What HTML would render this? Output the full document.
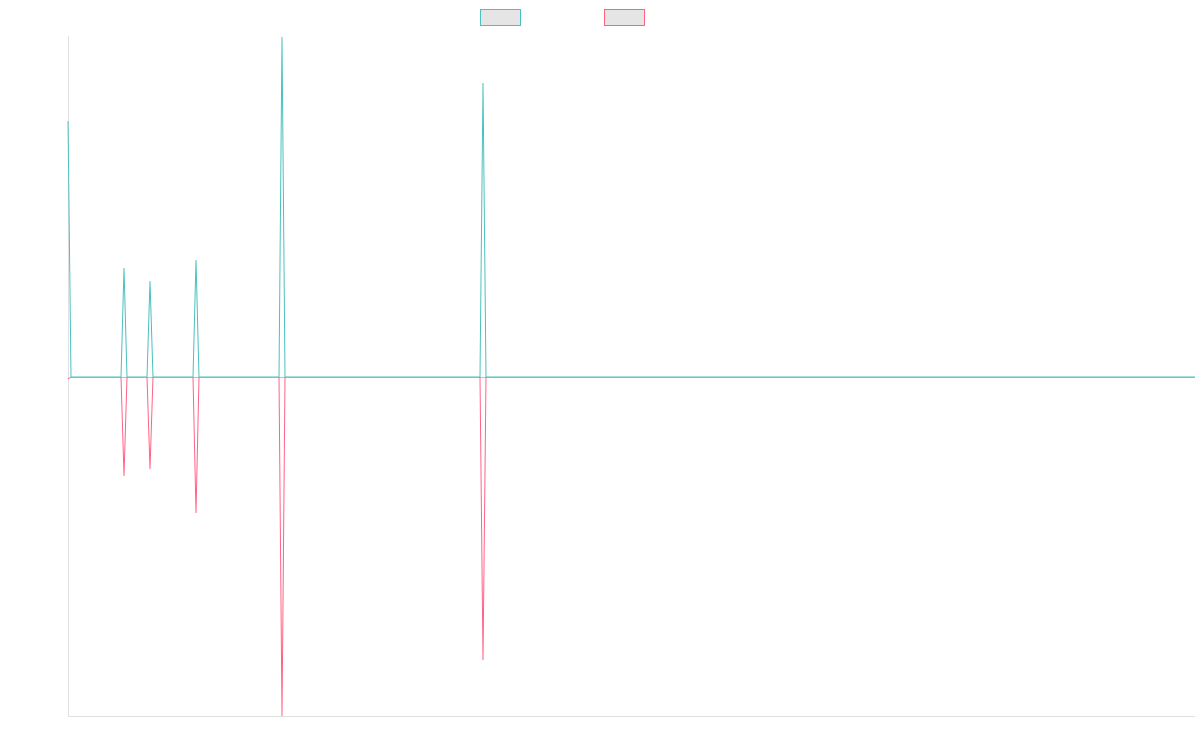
<!DOCTYPE html>
<html><head><style>html,body{margin:0;padding:0;background:#fff;width:1200px;height:750px;overflow:hidden}</style></head>
<body>
<svg width="1200" height="750" xmlns="http://www.w3.org/2000/svg">
<rect x="480.5" y="9.5" width="40" height="16" fill="#e5e5e5" stroke="#4bc0c0" stroke-width="1"/>
<rect x="604.5" y="9.5" width="40" height="16" fill="#e5e5e5" stroke="#ff6384" stroke-width="1"/>
<line x1="68.5" y1="36" x2="68.5" y2="716" stroke="#e0e0e0"/>
<line x1="68" y1="716.5" x2="1195" y2="716.5" stroke="#e0e0e0"/>
<polyline fill="none" stroke="#ff6384" stroke-width="1" points="68,379 71,377 121,377 124,476 127,377 147,377 150,469 153,377 193,377 196,513 199,377 279,377 282,716 285,377 480,377 483,660 486,377 1195,377"/>
<polyline fill="none" stroke="#4bc0c0" stroke-width="1" points="68,121 71,377 121,377 124,268 127,377 147,377 150,281 153,377 193,377 196,260 199,377 279,377 282,37 285,377 480,377 483,83 486,377 1195,377"/>
<line x1="71" y1="377.5" x2="1195" y2="377.5" stroke="#8a9aa3" stroke-width="1" opacity="0.6"/>
</svg>
</body></html>
